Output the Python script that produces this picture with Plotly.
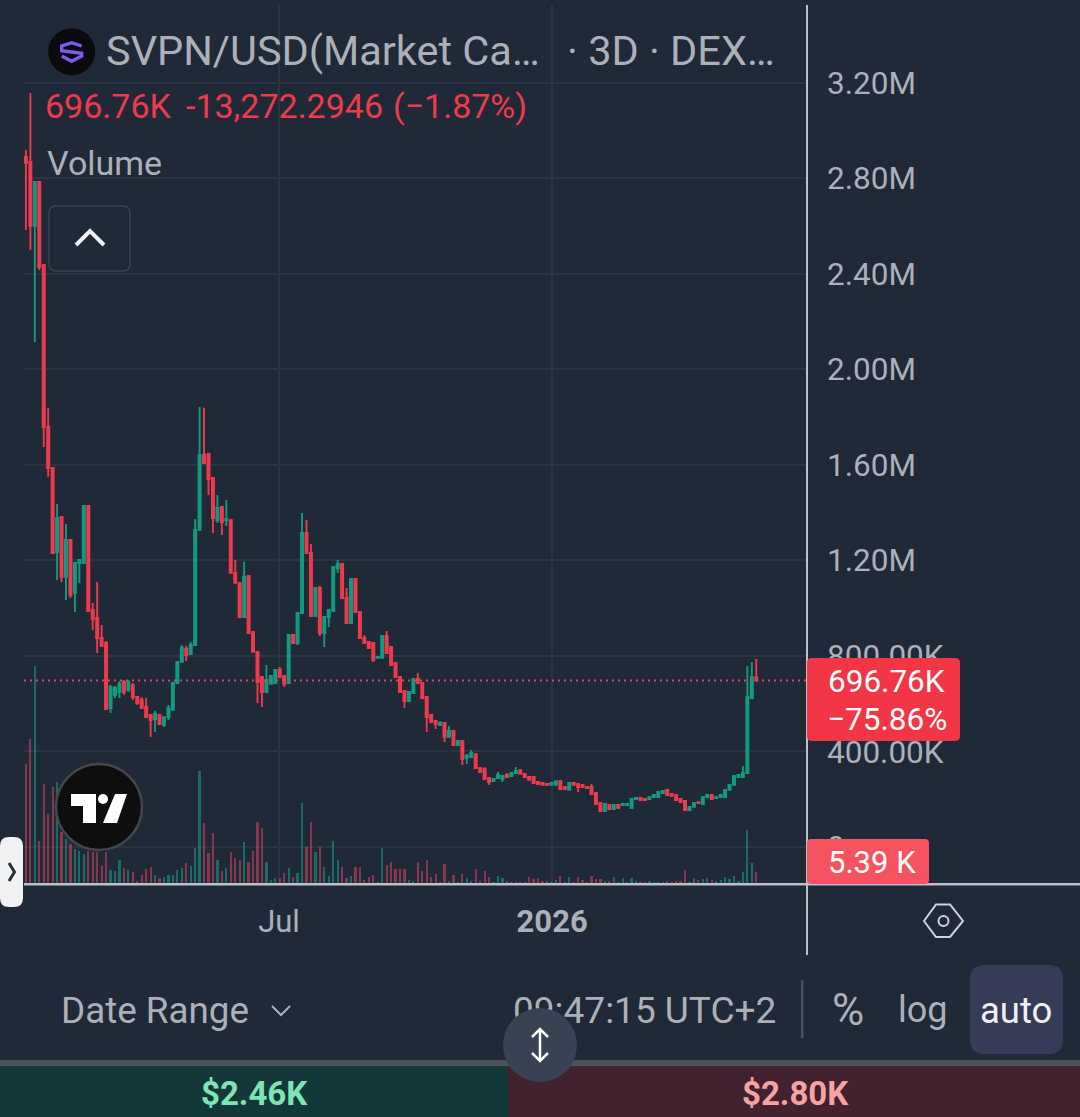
import pandas as pd
import plotly.graph_objects as go

W, H = 1080, 1117

# Market cap candles, thousands of USD, one candle per 3 days
first_date = "2025-01-11 12:00"
opens = [2890,2869,2601,2785,2437,1759,1587,1235,1382,1131,
1286,1064,1189,1189,1428,993,959,875,854,582,
637,649,691,658,678,628,616,586,553,536,
553,511,544,574,687,775,829,808,846,1328,
1642,1646,1545,1369,1424,1369,1369,1148,1106,963,
1135,900,817,712,649,683,687,741,716,687,
888,854,980,1315,1231,967,1085,896,963,988,
1168,1185,1043,938,1122,984,875,859,854,792,
792,884,838,771,712,653,611,645,704,687,
628,553,528,511,519,461,486,427,444,373,
377,389,331,327,289,276,289,285,302,297,
310,322,306,293,293,272,268,264,260,260,
276,251,239,268,264,260,251,251,226,184,
151,176,159,176,176,176,163,201,205,201,
201,209,209,226,239,222,218,201,193,155,
168,188,180,209,218,205,209,209,239,260,
293,293,310,624,710.03]
highs = [2919,3158,2785,2785,2437,1839,1587,1436,1382,1353,
1286,1189,1202,1428,1428,1022,1110,930,863,678,
674,695,699,699,687,628,628,624,553,570,
557,544,595,687,775,846,842,859,1374,1843,
1839,1646,1545,1474,1424,1453,1374,1202,1106,1194,
1135,900,817,712,762,716,741,754,716,888,
888,980,1399,1369,1269,1085,1093,963,993,1173,
1202,1185,1085,1122,1122,984,888,859,858,800,
888,905,838,771,712,653,649,704,729,687,
628,553,528,528,519,507,486,444,444,389,
406,389,331,335,289,289,314,297,310,310,
335,322,306,293,293,272,268,264,268,276,
276,251,268,272,268,264,251,264,226,184,
180,176,176,176,180,180,201,205,205,201,
209,218,230,235,239,222,218,201,193,168,
184,188,209,218,218,209,218,239,260,297,
302,339,758,775,787]
lows = [2584,2500,2115,2416,1675,1550,1231,1118,1110,1034,
1043,984,1106,1189,988,909,812,838,578,561,
624,624,637,649,616,595,582,540,461,482,
511,503,532,574,687,775,779,808,846,1328,
1608,1474,1315,1357,1307,1344,1148,1106,963,963,
896,817,603,586,649,683,687,712,670,687,
854,846,980,1231,967,967,884,838,921,988,
1148,1043,938,938,984,875,854,833,775,788,
792,812,762,712,649,582,611,645,687,624,
482,523,494,511,440,461,427,427,343,348,
377,331,314,280,260,272,285,272,293,297,
310,306,293,281,268,264,260,260,260,260,
243,243,239,260,230,251,247,222,180,151,
151,159,159,163,176,176,163,201,197,197,
201,209,209,226,218,214,197,188,155,155,
168,184,180,209,201,205,209,209,239,260,
293,293,310,624,696.76]
closes = [2865,2601,2785,2429,1759,1587,1231,1378,1131,1286,
1055,1189,1202,1428,988,955,875,842,578,670,
666,683,649,691,628,603,582,544,532,557,
515,544,582,687,775,833,804,846,1328,1642,
1608,1541,1378,1420,1361,1374,1148,1106,963,1131,
896,817,691,649,699,716,741,712,683,888,
854,980,1315,1231,967,1085,896,963,993,1173,
1185,1043,938,1122,984,875,854,833,783,796,
884,812,762,712,649,611,649,704,687,624,
544,523,515,519,461,486,427,444,369,381,
394,331,314,285,272,285,302,297,293,310,
318,306,293,281,268,264,260,260,268,276,
243,243,268,260,251,251,247,222,180,151,
180,159,176,163,180,180,201,205,197,197,
209,218,230,235,218,214,197,188,155,168,
184,184,209,218,201,209,218,239,260,297,
302,310,628,712,696.76]
volumes = [53.9,65.1,97.9,19.3,44.9,31.4,43.6,45.8,23.3,20.2,
18.0,15.7,14.8,13.5,14.8,14.4,14.4,8.1,14.4,6.3,
5.8,10.8,7.2,6.3,5.4,1.3,4.0,6.7,7.6,4.0,
2.7,3.1,4.0,4.0,6.3,7.2,9.4,8.1,16.2,50.7,
27.4,13.9,22.9,10.8,5.8,7.2,14.4,11.7,10.8,18.9,
9.9,14.8,27.8,25.1,9.9,1.8,2.7,2.7,4.9,7.2,
3.1,4.9,36.4,16.6,27.8,14.4,16.6,7.6,3.6,19.3,
10.8,7.6,2.7,3.6,7.6,7.6,1.8,3.1,4.0,0.9,
16.2,8.5,9.9,6.7,6.7,6.7,1.8,1.3,9.9,5.8,
10.8,3.1,4.5,0.9,9.0,1.3,4.0,0.9,4.5,2.7,
1.3,6.7,1.3,5.8,3.1,0.9,3.6,2.7,1.3,0.9,
0.9,0.9,0.9,3.1,2.2,2.7,1.3,1.3,0.9,1.8,
3.6,0.9,3.1,0.9,3.1,1.8,0.9,3.6,2.2,2.2,
1.3,1.3,3.1,0.9,2.7,0.9,2.7,1.3,0.9,0.9,
1.3,0.9,0.9,0.9,1.3,0.9,1.3,1.3,6.3,0.9,
2.7,1.8,2.2,2.7,1.8,1.3,1.8,3.1,2.2,3.6,
1.3,5.4,24.2,9.4,5.39]

price_ticks = [0, 400, 800, 1200, 1600, 2000, 2400, 2800, 3200]
price_labels = ["0", "400.00K", "800.00K", "1.20M", "1.60M", "2.00M", "2.40M", "2.80M", "3.20M"]
date_ticks = ["2025-07-01", "2026-01-01"]
date_labels = ["Jul", "<b>2026</b>"]
last_price = 696.76

BG = "#1F2937"
GRID = "#2B3542"
UP, DOWN = "#129A82", "#EE3A4C"
UPV, DOWNV = "rgba(24,160,140,0.55)", "rgba(240,70,100,0.5)"
GREY = "#ACB0B8"
FONT = "Roboto"

dates = pd.date_range(first_date, periods=len(opens), freq="3D")
vol_colors = [UPV if c >= o else DOWNV for o, c in zip(opens, closes)]


def px(x):
    return x / W


def py(y):
    return 1 - y / H


fig = go.Figure()
fig.add_trace(go.Bar(x=dates, y=volumes, marker=dict(color=vol_colors, line_width=0),
                     width=1.5 * 86400000, yaxis="y", showlegend=False))
fig.add_trace(go.Candlestick(x=dates, open=opens, high=highs, low=lows, close=closes, yaxis="y2",
                             whiskerwidth=0, showlegend=False,
                             increasing=dict(line=dict(color=UP, width=1.9), fillcolor=UP),
                             decreasing=dict(line=dict(color=DOWN, width=1.9), fillcolor=DOWN)))

shapes = []


def rrect(x0, y0, x1, y1, r, fill, line="rgba(0,0,0,0)", lw=0):
    p = (f"M{px(x0+r)},{py(y0)} L{px(x1-r)},{py(y0)} Q{px(x1)},{py(y0)} {px(x1)},{py(y0+r)} "
         f"L{px(x1)},{py(y1-r)} Q{px(x1)},{py(y1)} {px(x1-r)},{py(y1)} L{px(x0+r)},{py(y1)} "
         f"Q{px(x0)},{py(y1)} {px(x0)},{py(y1-r)} L{px(x0)},{py(y0+r)} Q{px(x0)},{py(y0)} {px(x0+r)},{py(y0)} Z")
    shapes.append(dict(type="path", path=p, xref="paper", yref="paper", fillcolor=fill,
                       line=dict(color=line, width=lw), layer="above"))


def poly(pts, fill="rgba(0,0,0,0)", line="rgba(0,0,0,0)", lw=0, close=True):
    p = "M" + " L".join(f"{px(x)},{py(y)}" for x, y in pts) + (" Z" if close else "")
    shapes.append(dict(type="path", path=p, xref="paper", yref="paper", fillcolor=fill,
                       line=dict(color=line, width=lw), layer="above"))


def circ(cx, cy, r, fill, line="rgba(0,0,0,0)", lw=0):
    shapes.append(dict(type="circle", xref="paper", yref="paper", x0=px(cx - r), x1=px(cx + r),
                       y0=py(cy + r), y1=py(cy - r), fillcolor=fill,
                       line=dict(color=line, width=lw), layer="above"))


def rect(x0, y0, x1, y1, fill):
    shapes.append(dict(type="rect", xref="paper", yref="paper", x0=px(x0), x1=px(x1),
                       y0=py(y1), y1=py(y0), fillcolor=fill, line_width=0, layer="above"))


# last-price dotted line
shapes.append(dict(type="line", xref="paper", yref="y2", x0=px(24), x1=px(806), y0=last_price, y1=last_price,
                   line=dict(color="#D9475A", width=2, dash="2px 4px"), layer="above"))

# axis frame
rect(24, 883, 1080, 885.5, "#BDC0C6")
rect(806, 5, 808, 955, "#BDC0C6")

# price tags
rrect(807, 658, 960, 741, 5, "#F23645")
rrect(807, 839, 929, 884, 4, "#F7525F")

# left handle
rrect(0, 837, 23, 907, 9, "#F1F2F4")
poly([(9, 863), (14.5, 872), (9, 881)], line="#2A2E39", lw=3, close=False)

# TradingView badge
circ(99, 807, 43, "#0E0E0E", "#45474B", 2.5)
poly([(71, 794), (96, 794), (96, 823), (83, 823), (83, 806), (71, 806)], "#FFFFFF")
circ(103, 799, 5, "#FFFFFF")
poly([(115, 794), (127, 794), (117, 823), (103, 823)], "#FFFFFF")

# token logo
circ(71.7, 51.7, 23.5, "#0B0B0F")
poly([(81.7, 46), (71.7, 42.7), (61.7, 46), (61.7, 50.7), (81.7, 53.3), (81.7, 56), (71.7, 61.3), (61.7, 56)],
     line="#7B5CF0", lw=3.3, close=False)

# collapse button
rrect(49, 206, 130, 271, 7, "rgba(0,0,0,0)", "#3C434E", 1.5)
poly([(76, 245), (90, 231), (104, 245)], line="#F0F1F3", lw=4, close=False)

# settings hexagon
poly([(924, 921), (936, 904.5), (950, 904.5), (963, 921), (950, 937), (936, 937)], line="#D0D3D8", lw=2)
circ(943.5, 921, 5, "rgba(0,0,0,0)", "#D0D3D8", 2)

# toolbar
poly([(272, 1006), (281, 1015), (290, 1006)], line=GREY, lw=2, close=False)
rect(801, 980, 803.5, 1038, "#4A515B")
rrect(970, 965, 1063, 1054, 14, "#363C57")

# clock text sits under the drag handle, so it is a shape label drawn before the handle
shapes.append(dict(type="rect", xref="paper", yref="paper", x0=px(510), x1=px(790), y0=py(1027), y1=py(987),
                   fillcolor="rgba(0,0,0,0)", line_width=0, layer="above",
                   label=dict(text="09:47:15 UTC+2", textposition="middle left", padding=0,
                              font=dict(family=FONT, size=37, color=GREY))))

# bottom buy/sell bars
rect(0, 1060, 1080, 1066, "#4B525C")
rect(0, 1066, 508, 1117, "#14383A")
rect(508, 1066, 1080, 1117, "#42222E")
circ(540, 1045, 37, "#384253")
poly([(540, 1030), (540, 1060)], line="#FFFFFF", lw=2.5, close=False)
poly([(532, 1037), (540, 1029), (548, 1037)], line="#FFFFFF", lw=2.5, close=False)
poly([(532, 1053), (540, 1061), (548, 1053)], line="#FFFFFF", lw=2.5, close=False)

annotations = []


def label(text, x, y, size, color, anchor="left"):
    annotations.append(dict(text=text, x=px(x), y=py(y), xref="paper", yref="paper", xanchor=anchor,
                            yanchor="middle", showarrow=False, borderpad=0,
                            font=dict(family=FONT, size=size, color=color)))


label("SVPN/USD(Market Ca…", 105, 50, 41.5, GREY)
label("· 3D · DEX…", 566, 50, 41.5, GREY)
label("696.76K", 44, 106, 34, "#EE3A4C")
label("-13,272.2946", 185, 106, 34, "#EE3A4C")
label("(−1.87%)", 392, 106, 34, "#EE3A4C")
label("Volume", 46, 163, 34, GREY)
label("696.76K", 827, 681, 31.5, "#FFFFFF")
label("−75.86%", 826, 719, 31.5, "#FFFFFF")
label("5.39 K", 827, 862, 31, "#FFFFFF")
label("Date Range", 60, 1010, 36.8, GREY)
label("%", 848, 1010, 44, GREY, "center")
label("log", 923, 1010, 36, GREY, "center")
label("auto", 1016, 1010, 36.5, "#F0F1F3", "center")
label("<b>$2.46K</b>", 254, 1093, 33, "#7FE3B5", "center")
label("<b>$2.80K</b>", 795, 1093, 33, "#F5A3A3", "center")

fig.update_layout(
    width=W, height=H, margin=dict(l=0, r=0, t=0, b=0), autosize=False,
    paper_bgcolor=BG, plot_bgcolor=BG, showlegend=False, bargap=0, boxgap=0.33,
    font=dict(family=FONT, color=GREY),
    shapes=shapes, annotations=annotations,
    xaxis=dict(domain=[px(24), px(806)], range=["2025-01-10 05:00", "2026-06-21"], type="date",
               tickmode="array", tickvals=date_ticks, ticktext=date_labels, showgrid=True,
               gridcolor=GRID, gridwidth=1.5, showline=False, zeroline=False, ticks="",
               tickfont=dict(size=31, color=GREY, family=FONT), ticklabelstandoff=16,
               rangeslider=dict(visible=False)),
    yaxis=dict(domain=[py(884), py(5)], range=[0, 394.7], showgrid=False, showticklabels=False,
               zeroline=False, showline=False, ticks=""),
    yaxis2=dict(domain=[py(884), py(5)], overlaying="y", side="right", range=[-155, 3526],
                tickmode="array", tickvals=price_ticks, ticktext=price_labels, showgrid=True,
                gridcolor=GRID, gridwidth=1.5, zeroline=False, showline=False, ticks="",
                tickfont=dict(size=31.5, color=GREY, family=FONT), ticklabelstandoff=20),
)

fig.write_html("out.html", config=dict(displayModeBar=False, responsive=False),
               post_script="document.body.style.margin='0';document.body.style.overflow='hidden';")
